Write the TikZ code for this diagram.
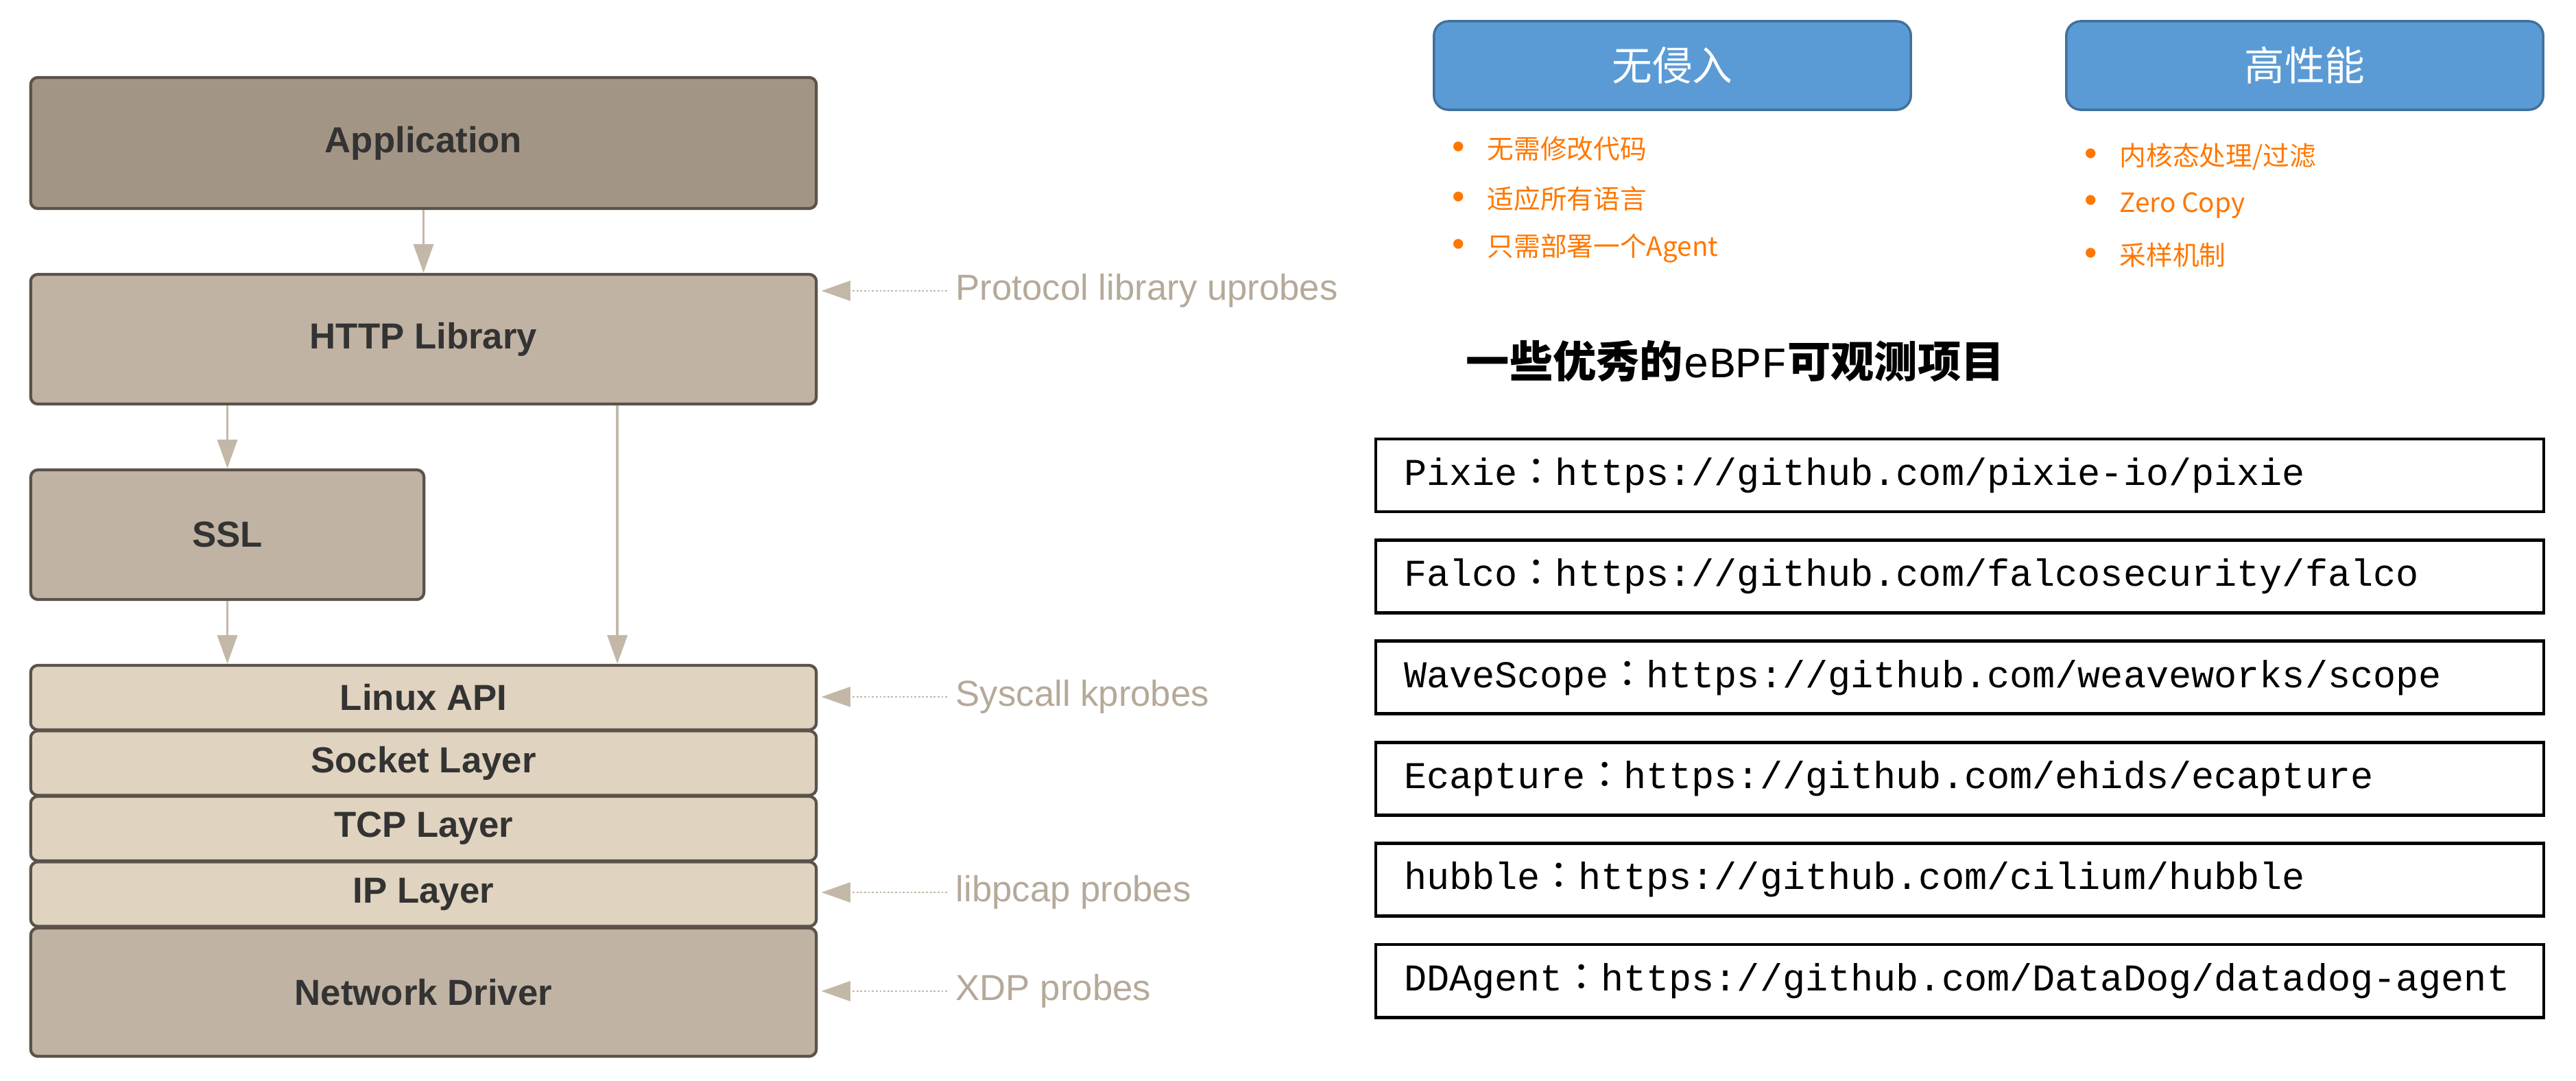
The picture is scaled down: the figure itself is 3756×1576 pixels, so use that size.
\documentclass[tikz,border=0pt]{standalone}
\usepackage{fontspec}
\setmainfont{Liberation Sans}
\setmonofont{Liberation Mono}
\newfontfamily\cjk{Noto Sans CJK SC}
\newfontfamily\cjkcolon{Noto Sans CJK TC}
\usetikzlibrary{arrows.meta}

\definecolor{appfill}{HTML}{A39585}
\definecolor{libfill}{HTML}{C0B3A3}
\definecolor{layerfill}{HTML}{E0D3BF}
\definecolor{boxline}{HTML}{5B534B}
\definecolor{flowcol}{HTML}{C3B7A8}
\definecolor{probetext}{HTML}{B5A999}
\definecolor{headfill}{HTML}{5B9BD5}
\definecolor{headline}{HTML}{41719C}
\definecolor{pointcol}{HTML}{FF7700}

\tikzset{
  stack/.style={draw=boxline, line width=1.2pt, rounded corners=3pt, text=black!80,
    font=\bfseries\fontsize{15}{18}\selectfont, minimum width=11.45cm},
  flow/.style={draw=flowcol, line width=1.1pt, -{Triangle[length=0.42cm,width=0.29cm]}},
  probe/.style={draw=flowcol, line width=0.7pt, dash pattern=on 0.8pt off 0.8pt,
    -{Triangle[length=0.42cm,width=0.29cm]}, shorten >=1.5pt},
  probelabel/.style={anchor=west, inner xsep=0.12cm, text=probetext, font=\fontsize{15}{18}\selectfont},
  headbox/.style={draw=headline, fill=headfill, line width=1pt, rounded corners=6pt,
    minimum width=6.95cm, minimum height=1.29cm, text=white, font=\cjk\fontsize{16.7}{20}\selectfont},
  point/.style={anchor=west, inner sep=0pt, text=pointcol, font=\cjk\fontsize{11}{13}\selectfont},
  repo/.style={draw=black, line width=1.4pt, minimum width=17.01cm, minimum height=1.06cm,
    text width=16.2cm, align=left, inner xsep=0.41cm, font=\ttfamily\fontsize{15.7}{18}\selectfont}
}
\newcommand{\dotmark}{\makebox[1.32em][l]{\rmfamily\fontsize{15}{13}\selectfont\textbullet}}
\newcommand{\sep}{{\cjkcolon ：}}

\begin{document}
\begin{tikzpicture}[x=0.01cm, y=-0.01cm]
    \useasboundingbox (0,0) rectangle (3756,1576);
    % network stack
    \node[stack, fill=appfill, minimum height=1.91cm] (app) at (617.5,208.5) {Application};
    \node[stack, fill=libfill, minimum height=1.89cm] (http) at (617.5,494.5) {HTTP Library};
    \node[stack, fill=libfill, minimum height=1.89cm, minimum width=5.73cm] (ssl) at (331.5,779.5) {SSL};
    \node[stack, fill=layerfill, minimum height=0.94cm] (linux) at (617.5,1017) {Linux API};
    \node[stack, fill=layerfill, minimum height=0.94cm] (sock) at (617.5,1112.5) {Socket Layer};
    \node[stack, fill=layerfill, minimum height=0.94cm] (tcp) at (617.5,1208) {TCP Layer};
    \node[stack, fill=layerfill, minimum height=0.94cm] (ip) at (617.5,1303.5) {IP Layer};
    \node[stack, fill=libfill, minimum height=1.87cm] (drv) at (617.5,1446.5) {Network Driver};
    \coordinate (httpout) at ([xshift=2.825cm]http.south);

    \draw[flow] (app) -- (http);
    \draw[flow] (http.south -| ssl.north) -- (ssl.north);
    \draw[flow] (ssl.south) -- (ssl.south |- linux.north);
    \draw[flow] (httpout) -- (httpout |- linux.north);

    % probes
    \node[probelabel] (uprobe) at (1381,424) {Protocol library uprobes};
    \node[probelabel] (kprobe) at (1381,1016) {Syscall kprobes};
    \node[probelabel] (pcap) at (1381,1301) {libpcap probes};
    \node[probelabel] (xdp) at (1381,1445) {XDP probes};
    \draw[probe] (uprobe.west) -- (uprobe.west -| http.east);
    \draw[probe] (kprobe.west) -- (kprobe.west -| linux.east);
    \draw[probe] (pcap.west) -- (pcap.west -| ip.east);
    \draw[probe] (xdp.west) -- (xdp.west -| drv.east);

    % features
    \node[headbox] (noinv) at (2438.5,95.5) {无侵入};
    \node[headbox] (perf) at (3360.5,95.5) {高性能};
    \foreach \txt [count=\i] in {无需修改代码,适应所有语言,只需部署一个Agent}
        \node[point] (noinv\i) at (2117,{145+72.2*\i}) {\dotmark\txt};
    \foreach \txt [count=\i] in {内核态处理/过滤,Zero Copy,采样机制}
        \node[point] (perf\i) at (3039,{157+71.5*\i}) {\dotmark\txt};

    % projects
    \node[anchor=west, inner sep=0pt, font=\fontsize{18}{22}\selectfont] (title) at (2137,527)
        {{\cjk\bfseries 一些优秀的}{\ttfamily eBPF}{\cjk\bfseries 可观测项目}};
    \foreach \txt [count=\i] in {{Pixie\sep https://github.com/pixie-io/pixie},
        {Falco\sep https://github.com/falcosecurity/falco},
        {WaveScope\sep https://github.com/weaveworks/scope},
        {Ecapture\sep https://github.com/ehids/ecapture},
        {hubble\sep https://github.com/cilium/hubble},
        {DDAgent\sep https://github.com/DataDog/datadog-agent}}
        \node[repo] (repo\i) at (2857.5,{693+147.4*(\i-1)}) {\txt};
\end{tikzpicture}
\end{document}
